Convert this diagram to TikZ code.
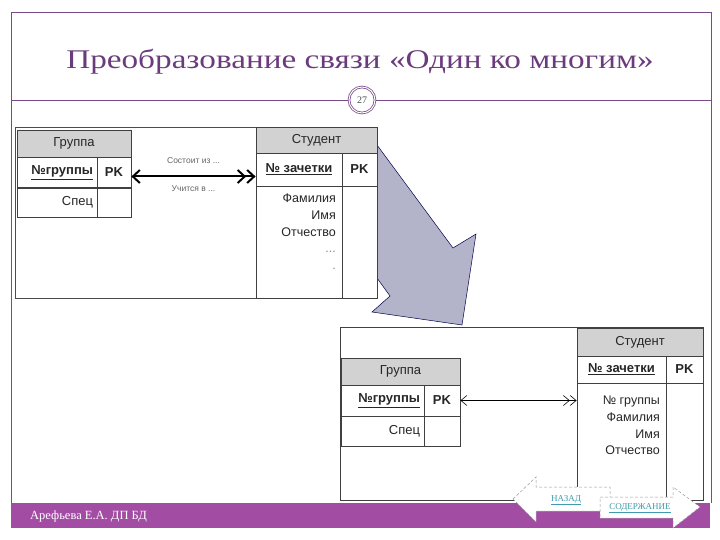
\documentclass[tikz,border=0pt]{standalone}
\usepackage{fontspec}
\usepackage{graphicx}
\setmainfont{Liberation Serif}
\newfontfamily\tabfont{Liberation Sans}
\usetikzlibrary{arrows.meta}

\definecolor{frameviolet}{HTML}{7A4B88}
\definecolor{titleviolet}{HTML}{6B3C7C}
\definecolor{barviolet}{HTML}{A24DA3}
\definecolor{hdrgray}{HTML}{D2D2D2}
\definecolor{bigarrow}{HTML}{B3B3C9}
\definecolor{navteal}{HTML}{3F9BAE}

\tikzset{
  cell/.style={draw=black!75, fill=white, line width=0.8pt, inner sep=0pt,
    font=\tabfont\fontsize{13}{15}\selectfont, text=black!85},
  hdr/.style={cell, fill=hdrgray},
  keycell/.style={cell, align=right, inner xsep=4pt},
  fld/.style={inner sep=0pt, align=right, font=\tabfont\fontsize{12.5}{16.7}\selectfont, text=black!85},
  relnote/.style={font=\tabfont\fontsize{8.5}{10}\selectfont, text=black!60},
  navarrow/.style={fill=white, draw=black!40, densely dashed, line width=0.5pt},
  navtext/.style={font=\fontsize{9}{10}\selectfont, text=navteal, inner sep=0pt},
}

\begin{document}
\begin{tikzpicture}[x=1pt, y=-1pt]
\useasboundingbox (0,0) rectangle (720,540);

% ===== Рамка слайда =====
\draw[frameviolet, line width=0.8pt] (11,503) -- (11,12) -- (711,12) -- (711,503);
\draw[frameviolet, line width=0.8pt] (11,100) -- (711,100);
\fill[barviolet] (11,503) rectangle (710,528);

\node[text=titleviolet, font=\fontsize{27}{30}\selectfont] (title) at (360,62)
  {\scalebox{1.23}[1]{Преобразование связи «Один ко многим»}};
\node[circle, fill=white, draw=frameviolet, double, double distance=1pt, line width=0.8pt,
  minimum size=26pt, inner sep=0pt, text=black!70, font=\fontsize{10}{12}\selectfont]
  (pageno) at (362,100) {27};

\node[anchor=west, inner sep=0pt, text=white, font=\fontsize{12.5}{14}\selectfont] (author) at (30,516)
  {Арефьева Е.А. ДП БД};

% ===== Большая стрелка =====
\draw[fill=bigarrow, draw=black!70!blue, line width=0.5pt]
  (360,145) -- (377,145) -- (453,248) -- (476,234) -- (462,325) -- (372,312)
  -- (390,296) -- (377,278) -- (360,278) -- cycle;

% ===== Схема 1 =====
\draw[black!70, fill=white, line width=0.6pt] (15,127) rectangle (256,298);

% Группа
\node[hdr, minimum width=114pt, minimum height=27pt] (g1h) at (74,143.5) {Группа};
\node[keycell, text width=72pt, minimum height=30pt] (g1key) at (57,172.5) {\underline{\textbf{№группы}}};
\node[cell, minimum width=34pt, minimum height=30pt] (g1pk) at (114,172.5) {\textbf{PK}};
\node[keycell, text width=72pt, minimum height=29pt] (g1spec) at (57,202.5) {Спец};
\node[cell, minimum width=34pt, minimum height=29pt] (g1x) at (114,202.5) {};

% Студент
\node[hdr, minimum width=121pt, minimum height=26pt] (s1h) at (316.5,140) {Студент};
\node[cell, minimum width=86pt, minimum height=33pt] (s1key) at (299,169.5) {\underline{\textbf{№ зачетки}}};
\node[cell, minimum width=35pt, minimum height=33pt] (s1pk) at (359.5,169.5) {\textbf{PK}};
\node[cell, minimum width=86pt, minimum height=112pt] (s1body) at (299,242) {};
\node[cell, minimum width=35pt, minimum height=112pt] (s1x) at (359.5,242) {};
\node[fld, anchor=north east] (s1fields) at (336,194)
  {Фамилия\\Имя\\Отчество\\{\color{black!45}...}\\{\color{black!45}.}};

% связь
\coordinate (r1a) at ([yshift=-4pt]g1pk.east);
\coordinate (r1b) at (r1a -| s1key.west);
\draw[line width=2pt, black,
  {Straight Barb[length=7pt,width=13pt]}-{Straight Barb[length=7pt,width=13pt] Straight Barb[length=7pt,width=13pt]}]
  (r1a) -- (r1b)
  node[relnote, midway, above=9pt] (r1up) {Состоит из ...}
  node[relnote, midway, below=5pt] (r1down) {Учится в ...};

% ===== Схема 2 =====
\draw[black!75, fill=white, line width=0.6pt] (340,327) rectangle (703,500);

% Группа
\node[hdr, minimum width=119pt, minimum height=27pt] (g2h) at (400.5,371.5) {Группа};
\node[keycell, text width=75pt, minimum height=31pt] (g2key) at (382.5,400.5) {\underline{\textbf{№группы}}};
\node[cell, minimum width=36pt, minimum height=31pt] (g2pk) at (442,400.5) {\textbf{PK}};
\node[keycell, text width=75pt, minimum height=30pt] (g2spec) at (382.5,431) {Спец};
\node[cell, minimum width=36pt, minimum height=30pt] (g2x) at (442,431) {};

% Студент
\node[hdr, minimum width=126pt, minimum height=28pt] (s2h) at (640,342) {Студент};
\node[cell, minimum width=89pt, minimum height=27pt] (s2key) at (621.5,369.5) {\underline{\textbf{№ зачетки}}};
\node[cell, minimum width=37pt, minimum height=27pt] (s2pk) at (684.5,369.5) {\textbf{PK}};
\node[cell, minimum width=89pt, minimum height=117pt] (s2body) at (621.5,441.5) {};
\node[cell, minimum width=37pt, minimum height=117pt] (s2x) at (684.5,441.5) {};
\node[fld, anchor=north east] (s2fields) at (660,396)
  {№ группы\\Фамилия\\Имя\\Отчество};

% связь
\coordinate (r2b) at (g2pk.east -| s2body.west);
\draw[line width=0.6pt, black,
  {Straight Barb[length=6pt,width=10pt]}-{Straight Barb[length=6pt,width=10pt] Straight Barb[length=6pt,width=10pt]}]
  (g2pk.east) -- (r2b);

% ===== Навигация =====
\draw[navarrow] (513,499) -- (536,477) -- (536,487) -- (610,487) -- (610,511)
  -- (536,511) -- (536,522) -- cycle;
\node[navtext] (back) at (566,500) {\underline{НАЗАД}};

\draw[navarrow] (600,497) -- (673,497) -- (673,487) -- (700,507) -- (673,528)
  -- (673,518) -- (600,518) -- cycle;
\node[navtext] (contents) at (640,508) {\underline{СОДЕРЖАНИЕ}};

\end{tikzpicture}
\end{document}
